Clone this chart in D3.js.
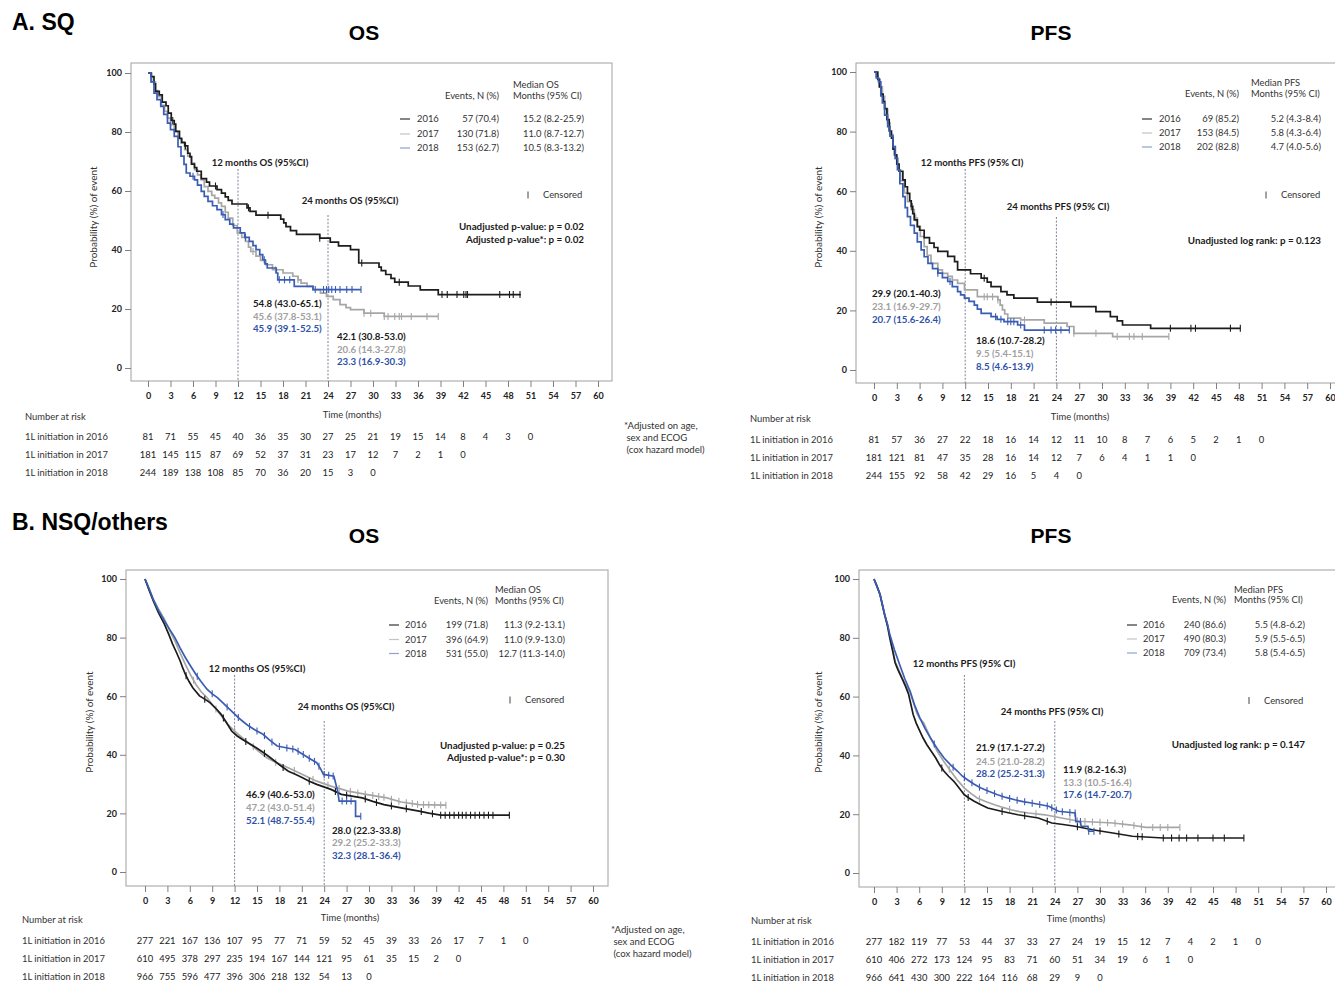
<!DOCTYPE html>
<html>
<head>
<meta charset="utf-8">
<script src="https://cdn.jsdelivr.net/npm/d3@7"></script>
<style>
  body { margin: 0; background: #fff; }
  svg text { font-family: Lato, "Open Sans", sans-serif; }
</style>
</head>
<body>
<svg id="chart" width="1335" height="983"></svg>
<script>
let monthTicks = [0, 3, 6, 9, 12, 15, 18, 21, 24, 27, 30, 33, 36, 39, 42, 45, 48, 51, 54, 57, 60];
let probTicks = [0, 20, 40, 60, 80, 100];
let cohorts = ['2016', '2017', '2018'];

// ---- A. SQ, OS : [month, survival %] ----
let sqOs2016 = [[0,100],[0.4,98.8],[0.8,96.3],[1.0,93.8],[1.5,92.6],[1.9,90.1],[2.4,88.9],[2.7,86.4],[3.1,83.9],[3.5,82.7],[3.7,80.2],[4.2,77.8],[4.5,76.5],[4.9,75.3],[5.3,72.8],[5.6,71.6],[5.8,69.1],[6.2,67.9],[6.5,66.7],[7.1,64.2],[7.8,63.0],[8.2,61.7],[9.2,60.5],[9.8,59.3],[10.3,58.0],[10.7,56.8],[11.2,55.6],[13.2,54.3],[13.6,53.1],[14.4,51.8],[17.7,50.5],[18.1,49.2],[18.4,47.9],[19.0,46.6],[19.8,45.3],[22.9,44.0],[24.3,42.7],[25.4,41.4],[27.0,40.1],[28.1,35.6],[30.8,34.2],[31.1,33.0],[31.7,31.7],[32.4,30.4],[32.9,29.1],[34.7,27.8],[36.3,26.5],[38.7,24.9],[49.7,24.9]];
let sqOs2017 = [[0,100],[0.5,97],[1.0,94],[1.3,92],[1.8,89],[2.2,87],[2.6,84.7],[3.0,82.5],[3.5,80.2],[4.0,78],[4.4,76.3],[4.9,74],[5.3,71.8],[5.8,69.5],[6.2,67.2],[6.6,65.5],[7.1,63.8],[7.5,61.5],[8.0,59.9],[8.5,58.5],[8.9,57.6],[9.4,56],[9.8,54.8],[10.3,52.8],[10.7,50.8],[11.3,48.3],[11.9,45.8],[12.5,44.3],[13.0,42.9],[13.4,41],[13.7,39.5],[14.4,37.9],[15.0,36.5],[15.7,35],[16.6,33.3],[18.0,32.2],[19.3,31.1],[20.0,29.9],[20.4,28.8],[21.2,27.7],[22.0,26.6],[23.0,25.4],[23.8,24.3],[24.7,23.2],[25.6,21.5],[26.4,20.5],[27.0,19.8],[28.8,18.6],[31.5,17.5],[38.7,17.5]];
let sqOs2018 = [[0,100],[0.4,97],[0.8,93.2],[1.2,91],[1.7,88.7],[2.1,86],[2.6,83],[3.0,80.8],[3.5,78.5],[4.0,75],[4.4,71.8],[4.8,69],[5.1,66.1],[5.6,65],[6.2,63.8],[6.6,62],[7.1,59.9],[7.5,58.2],[8.0,56.5],[8.6,55],[9.2,53.7],[9.8,52],[10.3,50.3],[10.9,48.8],[11.4,47.5],[12.3,45.8],[12.9,44.3],[13.5,42.9],[14.0,41.5],[14.4,40.1],[14.9,38.4],[15.3,36.7],[15.6,35.3],[15.9,33.9],[17.1,32.2],[17.3,29.9],[19.5,27.7],[22.0,26.6],[28.4,26.6]];
let sqOsCens2016 = [3.3, 5.0, 9.0, 13.4, 16.0, 22.9, 28.5, 33.5, 39.2, 39.9, 41.2, 42.1, 42.4, 42.6, 46.9, 48.2, 48.7, 49.6];
let sqOsCens2017 = [14.0, 17.0, 20.0, 28.8, 29.7, 31.5, 32.0, 32.9, 33.5, 33.8, 35.1, 37.2, 38.7];
let sqOsCens2018 = [6.0, 10.0, 13.0, 15.5, 17.5, 18.2, 18.9, 22.3, 23.4, 23.8, 24.1, 24.5, 25.0, 25.6, 26.5, 27.2, 28.4];
let sqOsRisk2016 = [81, 71, 55, 45, 40, 36, 35, 30, 27, 25, 21, 19, 15, 14, 8, 4, 3, 0];
let sqOsRisk2017 = [181, 145, 115, 87, 69, 52, 37, 31, 23, 17, 12, 7, 2, 1, 0];
let sqOsRisk2018 = [244, 189, 138, 108, 85, 70, 36, 20, 15, 3, 0];
let sqOsEvents = ['57 (70.4)', '130 (71.8)', '153 (62.7)'];
let sqOsMedian = ['15.2 (8.2-25.9)', '11.0 (8.7-12.7)', '10.5 (8.3-13.2)'];
let sqOsAt12 = ['54.8 (43.0-65.1)', '45.6 (37.8-53.1)', '45.9 (39.1-52.5)'];
let sqOsAt24 = ['42.1 (30.8-53.0)', '20.6 (14.3-27.8)', '23.3 (16.9-30.3)'];
let sqOsP = ['Unadjusted p-value: p = 0.02', 'Adjusted p-value*: p = 0.02'];

// ---- A. SQ, PFS ----
let sqPfs2016 = [[0,100],[0.5,97.5],[0.7,95],[0.9,92.6],[1.2,90.1],[1.4,87.7],[1.7,84],[2.0,80.2],[2.3,77.8],[2.5,74.1],[2.7,72.2],[3.0,69.1],[3.3,66.7],[3.8,63.8],[4.1,61.5],[4.4,59.3],[4.7,56.8],[4.9,54.9],[5.1,52.5],[5.3,50.4],[5.7,48.1],[6.0,46.9],[6.6,44.4],[7.3,42.6],[7.9,41.1],[8.4,39.8],[9.7,38.1],[10.6,36.4],[11.0,33.6],[12.7,32.3],[14.1,30.8],[14.9,29.5],[15.4,28.0],[16.7,26.3],[17.5,25.2],[18.4,24.1],[21.5,22.8],[25.9,21.3],[29.2,19.6],[31.1,17.9],[32.0,16.5],[32.7,15.1],[36.4,14.0],[48.2,14.0]];
let sqPfs2017 = [[0,100],[0.3,98.5],[0.5,97.5],[0.8,95],[1.1,91.8],[1.4,87.5],[1.8,82.9],[2.1,79],[2.5,75],[2.8,71],[3.1,67.2],[3.5,63.5],[4.0,59.4],[4.4,56.5],[4.9,53.8],[5.3,51],[5.7,48.2],[6.1,44.8],[6.6,41.4],[7.0,38.5],[7.5,35.8],[8.4,33.6],[9.0,32.4],[9.7,31.4],[10.3,30.2],[11.0,29.1],[11.9,26.9],[13.6,24.6],[16.3,23.5],[16.6,21.8],[16.9,20.2],[17.2,18.8],[17.6,17.4],[19.3,16.8],[22.4,15.7],[25.4,14.6],[26.3,12.3],[31.4,11.2],[38.8,11.2]];
let sqPfs2018 = [[0,100],[0.3,98],[0.6,96.7],[0.9,92],[1.1,89.6],[1.4,85.5],[1.8,81.7],[2.1,78.5],[2.5,75],[2.8,71],[3.1,67.2],[3.4,62.5],[3.8,58.2],[4.1,54.5],[4.4,51.5],[4.8,48.5],[5.3,45.9],[5.7,43],[6.2,40.3],[6.6,38],[7.1,35.8],[7.7,34],[8.4,32.5],[9.0,31],[9.7,29.7],[10.3,28],[11.0,26.3],[11.4,25.2],[11.9,24.1],[12.5,23],[13.2,21.8],[13.6,20.4],[14.1,19],[15.4,17.9],[16.2,17],[17.1,16.2],[18.9,15.1],[19.8,13.4],[25.7,13.4]];
let sqPfsCens2016 = [5.0, 14.5, 23.3, 39.0, 41.7, 42.3, 46.9, 48.2];
let sqPfsCens2017 = [5.5, 14.5, 14.9, 15.6, 16.3, 19.8, 26.3, 29.2, 32.0, 33.6, 34.2, 35.3, 38.8];
let sqPfsCens2018 = [8.4, 10.0, 16.0, 16.7, 17.6, 18.0, 18.4, 19.3, 22.4, 23.3, 23.9, 24.6, 25.7];
let sqPfsRisk2016 = [81, 57, 36, 27, 22, 18, 16, 14, 12, 11, 10, 8, 7, 6, 5, 2, 1, 0];
let sqPfsRisk2017 = [181, 121, 81, 47, 35, 28, 16, 14, 12, 7, 6, 4, 1, 1, 0];
let sqPfsRisk2018 = [244, 155, 92, 58, 42, 29, 16, 5, 4, 0];
let sqPfsEvents = ['69 (85.2)', '153 (84.5)', '202 (82.8)'];
let sqPfsMedian = ['5.2 (4.3-8.4)', '5.8 (4.3-6.4)', '4.7 (4.0-5.6)'];
let sqPfsAt12 = ['29.9 (20.1-40.3)', '23.1 (16.9-29.7)', '20.7 (15.6-26.4)'];
let sqPfsAt24 = ['18.6 (10.7-28.2)', '9.5 (5.4-15.1)', '8.5 (4.6-13.9)'];
let sqPfsP = ['Unadjusted log rank: p = 0.123'];

// ---- B. NSQ/others, OS ----
let nsqOs2016 = [[0,100],[0.5,96.5],[1.1,92.6],[1.8,88.5],[2.6,84.6],[3.2,81],[3.7,77.8],[4.2,75],[4.7,72.1],[5.0,70],[5.4,67.5],[5.9,65],[6.4,62.9],[7.3,60.1],[8.0,59],[8.7,57.8],[9.5,55.8],[10.2,53.8],[10.9,51],[11.6,48.1],[12.3,46.5],[13.0,45.3],[14.0,43.8],[14.9,42.4],[15.9,40.7],[16.8,39],[18.0,36.6],[19.2,34.4],[20.2,33.3],[21.1,32.2],[22.0,31.0],[23.0,29.9],[24.9,28.2],[26.3,26.5],[27.7,25.9],[29.1,25.3],[30.5,24.1],[32.0,23],[34.3,21.9],[36.7,20.8],[38.0,20.1],[39.6,19.4],[48.8,19.4]];
let nsqOs2017 = [[0,100],[0.5,97],[1.1,93.2],[1.8,89.8],[2.6,86.3],[3.3,82.5],[4.0,78.9],[4.7,74.8],[5.4,70.9],[6.1,67.3],[6.8,64.1],[7.5,61.6],[8.3,59.5],[9.0,57.2],[9.7,55],[10.4,52.7],[11.1,50.4],[11.8,48.6],[12.5,47],[13.4,45],[14.4,43],[15.3,41],[16.3,39],[17.2,37.8],[18.2,36.7],[19.4,35.3],[20.6,33.9],[21.8,32.4],[23.0,31],[24.9,29.3],[27.2,27.6],[29.6,26.5],[32.4,25.3],[34.3,23.9],[36.7,23],[40.3,22.8]];
let nsqOs2018 = [[0,100],[0.5,97],[1.1,93],[1.8,89.3],[2.6,85.7],[3.3,82.8],[4.0,80],[4.7,76.5],[5.4,73.2],[6.1,70.3],[6.8,67.5],[7.5,65],[8.3,62.4],[9.0,60.8],[9.7,59.5],[10.4,57.8],[11.1,56.1],[11.8,54.4],[12.5,52.7],[13.2,51.2],[13.9,49.8],[14.8,48.4],[15.8,47],[16.7,45],[17.7,43],[18.9,42.4],[20.1,41.8],[20.8,40.7],[21.5,39.6],[22.2,38.5],[23.0,37.3],[23.5,35.3],[23.9,33.3],[25.3,32.7],[25.8,27.6],[26.0,24.2],[28.2,24.2],[28.2,19],[28.9,19]];
let nsqOsCens2016 = [5.5, 8.0, 10.5, 13.5, 16.0, 18.5, 22.0, 25.5, 27.0, 29.5, 31.0, 33.0, 35.0, 37.0, 38.5, 39.6, 40.2, 40.8, 41.4, 42.0, 42.5, 43.0, 43.6, 44.2, 44.8, 45.4, 46.0, 46.6, 48.8];
let nsqOsCens2017 = [6.5, 9.5, 12.0, 14.5, 17.5, 20.0, 22.5, 24.5, 26.0, 27.5, 28.5, 29.5, 30.5, 31.3, 32.0, 33.0, 34.0, 35.0, 35.8, 36.5, 37.3, 38.0, 38.8, 39.6, 40.3];
let nsqOsCens2018 = [7.0, 9.0, 11.0, 12.5, 14.0, 15.0, 16.0, 17.0, 18.0, 19.0, 19.8, 20.5, 21.2, 22.0, 22.7, 23.3, 24.0, 24.6, 25.2, 26.4, 27.0, 27.6, 28.9];
let nsqOsRisk2016 = [277, 221, 167, 136, 107, 95, 77, 71, 59, 52, 45, 39, 33, 26, 17, 7, 1, 0];
let nsqOsRisk2017 = [610, 495, 378, 297, 235, 194, 167, 144, 121, 95, 61, 35, 15, 2, 0];
let nsqOsRisk2018 = [966, 755, 596, 477, 396, 306, 218, 132, 54, 13, 0];
let nsqOsEvents = ['199 (71.8)', '396 (64.9)', '531 (55.0)'];
let nsqOsMedian = ['11.3 (9.2-13.1)', '11.0 (9.9-13.0)', '12.7 (11.3-14.0)'];
let nsqOsAt12 = ['46.9 (40.6-53.0)', '47.2 (43.0-51.4)', '52.1 (48.7-55.4)'];
let nsqOsAt24 = ['28.0 (22.3-33.8)', '29.2 (25.2-33.3)', '32.3 (28.1-36.4)'];
let nsqOsP = ['Unadjusted p-value: p = 0.25', 'Adjusted p-value*: p = 0.30'];

// ---- B. NSQ/others, PFS ----
let nsqPfs2016 = [[0,100],[0.4,97.5],[0.8,94.7],[1.1,91.3],[1.4,87.9],[1.8,83.9],[2.1,79.9],[2.5,75.2],[2.8,71.5],[3.2,69],[3.7,66.3],[4.2,63.4],[4.6,60.7],[4.9,57.3],[5.2,53.9],[5.6,51],[6.1,48.2],[6.5,46],[7.0,43.7],[7.6,41.4],[8.2,39.1],[8.7,36.8],[9.3,34.6],[9.9,32.9],[10.6,31.2],[11.3,28.9],[12.0,26.6],[12.6,25.5],[13.3,24.4],[14.2,23.2],[15.1,22.1],[16.9,21],[19.1,19.8],[21.8,18.7],[23.6,17],[25.1,16.5],[26.7,15.9],[29.0,14.7],[31.7,13.6],[34.3,12.5],[38.4,11.9],[49.1,11.9]];
let nsqPfs2017 = [[0,100],[0.4,97.5],[0.8,94.7],[1.1,91.5],[1.4,88.2],[1.8,84.3],[2.1,80.5],[2.5,76],[2.8,72],[3.3,69],[3.8,66],[4.3,63.5],[4.8,61.2],[5.3,57.5],[5.7,54.3],[6.1,52.5],[6.6,51],[7.5,46],[8.4,41.4],[9.3,37.8],[10.2,34.6],[11.1,31.5],[12.0,28.9],[12.9,27],[13.7,25.5],[14.8,24.3],[16.0,23.2],[17.1,22.3],[18.2,21.5],[19.3,20.9],[20.5,20.4],[22.7,19.8],[24.9,18.7],[27.2,17.6],[31.7,17],[33.9,16.4],[36.1,15.5],[40.6,15.5]];
let nsqPfs2018 = [[0,100],[0.4,97.5],[0.8,94.7],[1.1,91.5],[1.4,88],[1.8,84.5],[2.1,81.1],[2.7,76],[3.4,70.9],[4.1,66],[4.8,61.8],[5.4,57],[6.1,52.7],[6.8,49],[7.5,45.9],[8.4,42.3],[9.3,39.1],[10.2,36.7],[11.1,34.6],[11.7,33],[12.4,31.7],[13.3,30.2],[14.2,28.9],[15.3,27.7],[16.4,26.6],[17.5,25.7],[18.7,24.9],[19.8,24.3],[20.9,23.8],[22.0,23.3],[23.2,22.7],[23.9,21.8],[24.5,21],[26.7,20.4],[26.8,17.5],[27.4,17.5],[27.5,15.9],[28.4,15.9],[28.5,14.2],[29.2,14.2]];
let nsqPfsCens2016 = [9.0, 12.5, 17.0, 20.0, 23.0, 27.0, 30.0, 32.5, 35.0, 35.6, 38.4, 39.5, 40.5, 41.5, 43.0, 45.0, 46.5, 49.1];
let nsqPfsCens2017 = [10.0, 14.0, 18.0, 21.5, 24.0, 26.0, 27.0, 28.0, 29.0, 30.0, 31.0, 32.0, 33.0, 34.5, 35.5, 37.0, 38.0, 39.0, 40.6];
let nsqPfsCens2018 = [8.0, 10.5, 12.0, 13.0, 14.0, 15.0, 16.0, 17.0, 18.0, 19.0, 20.0, 21.0, 22.0, 23.0, 23.6, 24.2, 25.0, 26.0, 26.7, 27.4, 28.5, 29.2];
let nsqPfsRisk2016 = [277, 182, 119, 77, 53, 44, 37, 33, 27, 24, 19, 15, 12, 7, 4, 2, 1, 0];
let nsqPfsRisk2017 = [610, 406, 272, 173, 124, 95, 83, 71, 60, 51, 34, 19, 6, 1, 0];
let nsqPfsRisk2018 = [966, 641, 430, 300, 222, 164, 116, 68, 29, 9, 0];
let nsqPfsEvents = ['240 (86.6)', '490 (80.3)', '709 (73.4)'];
let nsqPfsMedian = ['5.5 (4.8-6.2)', '5.9 (5.5-6.5)', '5.8 (5.4-6.5)'];
let nsqPfsAt12 = ['21.9 (17.1-27.2)', '24.5 (21.0-28.2)', '28.2 (25.2-31.3)'];
let nsqPfsAt24 = ['11.9 (8.2-16.3)', '13.3 (10.5-16.4)', '17.6 (14.7-20.7)'];
let nsqPfsP = ['Unadjusted log rank: p = 0.147'];

let footnote = ['*Adjusted on age,', ' sex and ECOG', ' (cox hazard model)'];

// styles
let curveColors = ['#1c1c1c', '#a6a6a6', '#3a5cb3'];
let textColors = ['#1a1a1a', '#a0a0a0', '#2f52a8'];
let legendColors = ['#333', '#c4c4c4', '#8ea1d4'];

let svg = d3.select('#chart');

let txt = (g, x, y, s, o = {}) => {
  return g.append('text')
    .attr('x', x).attr('y', y).attr('dy', '0.35em')
    .attr('text-anchor', o.anchor || 'start')
    .attr('font-size', o.size || 9.4)
    .attr('font-weight', o.bold ? 'bold' : 'normal')
    .attr('fill', o.color || '#222')
    .text(s);
}

let stepAt = (pts, t) => {
  let v = pts[0][1];
  for (let p of pts) { if (p[0] <= t) v = p[1]; else break; }
  return v;
}
let linAt = (pts, t) => {
  for (let i = 1; i < pts.length; i++) {
    if (pts[i][0] >= t) {
      let a = pts[i - 1], b = pts[i];
      if (b[0] === a[0]) return b[1];
      return a[1] + (b[1] - a[1]) * (t - a[0]) / (b[0] - a[0]);
    }
  }
  return pts[pts.length - 1][1];
}

let panels = [
  {
    frame: [131, 63, 612, 381], xr: [148, 598], yr: [368, 73], step: true,
    series: [sqOs2016, sqOs2017, sqOs2018], cens: [sqOsCens2016, sqOsCens2017, sqOsCens2018],
    risk: [sqOsRisk2016, sqOsRisk2017, sqOsRisk2018],
    events: sqOsEvents, median: sqOsMedian, medHead: 'Median OS', at12: sqOsAt12, at24: sqOsAt24, pv: sqOsP,
    lg: { line: 400, year: 417, ev: 499, med0: 513, med1: 584, head: [85, 95.5], rows: [119, 134, 148] },
    cen: [528, 543, 195], pvY: [227, 239.5],
    m12: { t: '12 months OS (95%CI)', cx: 260, y: 163, top: 169 },
    m24: { t: '24 months OS (95%CI)', cx: 350, y: 201, top: 215 },
    a12: [253, [304, 316.5, 329]], a24: [337, [337, 349.5, 362]],
    ylab: [93, 217], riskHead: [25, 417], timeLab: [352, 415], rows: [437, 455, 473],
    foot: [624, [426, 438, 450]]
  },
  {
    frame: [856, 63, 1345, 383], xr: [874, 1330], yr: [370, 72], step: true,
    series: [sqPfs2016, sqPfs2017, sqPfs2018], cens: [sqPfsCens2016, sqPfsCens2017, sqPfsCens2018],
    risk: [sqPfsRisk2016, sqPfsRisk2017, sqPfsRisk2018],
    events: sqPfsEvents, median: sqPfsMedian, medHead: 'Median PFS', at12: sqPfsAt12, at24: sqPfsAt24, pv: sqPfsP,
    lg: { line: 1142, year: 1159, ev: 1239, med0: 1251, med1: 1321, head: [83, 93.5], rows: [119, 133, 147] },
    cen: [1266, 1281, 195], pvY: [241],
    m12: { t: '12 months PFS (95% CI)', cx: 972, y: 163, top: 169 },
    m24: { t: '24 months PFS (95% CI)', cx: 1058, y: 207, top: 217 },
    a12: [872, [294, 307, 320]], a24: [976, [341, 354, 366.5]],
    ylab: [818, 217], riskHead: [750, 419], timeLab: [1080, 417], rows: [440, 458, 476]
  },
  {
    frame: [126, 570, 608, 886], xr: [145, 593], yr: [872, 579], step: false,
    series: [nsqOs2016, nsqOs2017, nsqOs2018], cens: [nsqOsCens2016, nsqOsCens2017, nsqOsCens2018],
    risk: [nsqOsRisk2016, nsqOsRisk2017, nsqOsRisk2018],
    events: nsqOsEvents, median: nsqOsMedian, medHead: 'Median OS', at12: nsqOsAt12, at24: nsqOsAt24, pv: nsqOsP,
    lg: { line: 389, year: 405, ev: 488, med0: 495, med1: 565, head: [590, 601], rows: [625, 639.5, 653.5] },
    cen: [510, 525, 700], pvY: [745.5, 757.5],
    m12: { t: '12 months OS (95%CI)', cx: 257, y: 669, top: 675 },
    m24: { t: '24 months OS (95%CI)', cx: 346, y: 707, top: 721 },
    a12: [246, [795, 808, 820.5]], a24: [332, [830.5, 843, 856]],
    ylab: [89, 722], riskHead: [22, 920], timeLab: [350, 918], rows: [941, 959, 977],
    foot: [611, [930, 942, 954]]
  },
  {
    frame: [859, 570, 1345, 887], xr: [874, 1326], yr: [873, 579], step: false,
    series: [nsqPfs2016, nsqPfs2017, nsqPfs2018], cens: [nsqPfsCens2016, nsqPfsCens2017, nsqPfsCens2018],
    risk: [nsqPfsRisk2016, nsqPfsRisk2017, nsqPfsRisk2018],
    events: nsqPfsEvents, median: nsqPfsMedian, medHead: 'Median PFS', at12: nsqPfsAt12, at24: nsqPfsAt24, pv: nsqPfsP,
    lg: { line: 1127, year: 1143, ev: 1226, med0: 1234, med1: 1305, head: [590, 600], rows: [625, 639, 653] },
    cen: [1249, 1264, 700.5], pvY: [745],
    m12: { t: '12 months PFS (95% CI)', cx: 964, y: 664, top: 675 },
    m24: { t: '24 months PFS (95% CI)', cx: 1052, y: 711.5, top: 721 },
    a12: [976, [748, 761.5, 774]], a24: [1063, [770, 783, 795]],
    ylab: [818, 722], riskHead: [751, 921], timeLab: [1076, 919], rows: [942, 960, 978]
  }
];

let drawPanel = (p) => {
  let g = svg.append('g');
  let x = d3.scaleLinear().domain([0, 60]).range(p.xr);
  let y = d3.scaleLinear().domain([0, 100]).range(p.yr);
  let [fx0, fy0, fx1, fy1] = p.frame;

  g.append('rect')
    .attr('x', fx0).attr('y', fy0)
    .attr('width', fx1 - fx0).attr('height', fy1 - fy0)
    .attr('fill', 'none').attr('stroke', '#a0a0a0').attr('stroke-width', 1);

  let xg = g.append('g')
    .attr('transform', `translate(0,${fy1})`)
    .call(d3.axisBottom(x).tickValues(monthTicks).tickSize(6).tickPadding(6));
  xg.select('.domain').remove();
  xg.selectAll('line').attr('stroke', '#808080');
  xg.attr('font-family', null).attr('font-size', 9).attr('font-weight', 'bold');
  xg.selectAll('text').attr('fill', '#222');

  let yg = g.append('g')
    .attr('transform', `translate(${fx0},0)`)
    .call(d3.axisLeft(y).tickValues(probTicks).tickSize(6).tickPadding(3));
  yg.select('.domain').remove();
  yg.selectAll('line').attr('stroke', '#808080');
  yg.attr('font-family', null).attr('font-size', 9).attr('font-weight', 'bold');
  yg.selectAll('text').attr('fill', '#222');

  // landmark lines
  [[12, p.m12], [24, p.m24]].forEach(([m, lab]) => {
    g.append('line')
      .attr('x1', x(m)).attr('x2', x(m))
      .attr('y1', lab.top).attr('y2', fy1)
      .attr('stroke', '#5a6478').attr('stroke-width', 0.8)
      .attr('stroke-dasharray', '2,1.6');
    txt(g, lab.cx, lab.y, lab.t, { anchor: 'middle', bold: true, size: 9.6, color: '#1a1a1a' });
  });

  // curves
  let line = d3.line()
    .x(d => x(d[0])).y(d => y(d[1]))
    .curve(p.step ? d3.curveStepAfter : d3.curveLinear);
  let order = [1, 0, 2];
  order.forEach(i => {
    g.append('path')
      .attr('d', line(p.series[i]))
      .attr('fill', 'none')
      .attr('stroke', curveColors[i])
      .attr('stroke-width', 1.7);
    let at = p.step ? stepAt : linAt;
    g.selectAll(null)
      .data(p.cens[i])
      .enter()
      .append('line')
      .attr('x1', c => x(c)).attr('x2', c => x(c))
      .attr('y1', c => y(at(p.series[i], c)) - 3.5)
      .attr('y2', c => y(at(p.series[i], c)) + 3.5)
      .attr('stroke', curveColors[i])
      .attr('stroke-width', 1.1);
  });

  // legend
  let lg = p.lg;
  txt(g, lg.ev, lg.head[1], 'Events, N (%)', { anchor: 'end', color: '#333' });
  txt(g, lg.med0, lg.head[0], p.medHead, { color: '#333' });
  txt(g, lg.med0, lg.head[1], 'Months (95% CI)', { color: '#333' });
  cohorts.forEach((c, i) => {
    let ry = lg.rows[i];
    g.append('line')
      .attr('x1', lg.line).attr('x2', lg.line + 10)
      .attr('y1', ry).attr('y2', ry)
      .attr('stroke', legendColors[i]).attr('stroke-width', 1.2);
    txt(g, lg.year, ry, c, { color: '#333' });
    txt(g, lg.ev, ry, p.events[i], { anchor: 'end', color: '#333' });
    txt(g, lg.med1, ry, p.median[i], { anchor: 'end', color: '#333' });
  });
  g.append('line')
    .attr('x1', p.cen[0]).attr('x2', p.cen[0])
    .attr('y1', p.cen[2] - 3.5).attr('y2', p.cen[2] + 3.5)
    .attr('stroke', '#444').attr('stroke-width', 1);
  txt(g, p.cen[1], p.cen[2], 'Censored', { color: '#333' });
  p.pv.forEach((s, i) => {
    txt(g, lg.med1, p.pvY[i], s, { anchor: 'end', bold: true, size: 9.8, color: '#1a1a1a' });
  });

  // landmark estimates
  cohorts.forEach((c, i) => {
    txt(g, p.a12[0], p.a12[1][i], p.at12[i], { bold: true, size: 9.7, color: textColors[i] });
    txt(g, p.a24[0], p.a24[1][i], p.at24[i], { bold: true, size: 9.7, color: textColors[i] });
  });

  // y label
  g.append('text')
    .attr('transform', `translate(${p.ylab[0]},${p.ylab[1]}) rotate(-90)`)
    .attr('text-anchor', 'middle').attr('dy', '0.35em')
    .attr('font-size', 10).attr('fill', '#333')
    .text('Probability (%) of event');

  // number at risk
  txt(g, p.riskHead[0], p.riskHead[1], 'Number at risk', { color: '#333' });
  txt(g, p.timeLab[0], p.timeLab[1], 'Time (months)', { anchor: 'middle', color: '#333' });
  p.risk.forEach((row, i) => {
    txt(g, p.riskHead[0], p.rows[i], '1L initiation in ' + cohorts[i], { color: '#333' });
    row.forEach((v, j) => {
      txt(g, x(monthTicks[j]), p.rows[i], v, { anchor: 'middle', color: '#222' });
    });
  });

  if (p.foot) {
    footnote.forEach((s, i) => {
      txt(g, p.foot[0], p.foot[1][i], s, { color: '#333', size: 9.6 }).style('white-space', 'pre');
    });
  }
}

panels.forEach(drawPanel);

// headings
let head = (x, y, s, size, anchor) => {
  svg.append('text')
    .attr('x', x).attr('y', y)
    .attr('text-anchor', anchor)
    .attr('font-size', size).attr('font-weight', 'bold')
    .style('font-family', '"Liberation Sans", Arial, sans-serif')
    .attr('fill', '#000')
    .text(s);
}
head(12, 30, 'A. SQ', 23, 'start');
head(364, 40, 'OS', 21, 'middle');
head(1051, 40, 'PFS', 21, 'middle');
head(12, 530, 'B. NSQ/others', 23, 'start');
head(364, 543, 'OS', 21, 'middle');
head(1051, 543, 'PFS', 21, 'middle');
</script>
</body>
</html>
